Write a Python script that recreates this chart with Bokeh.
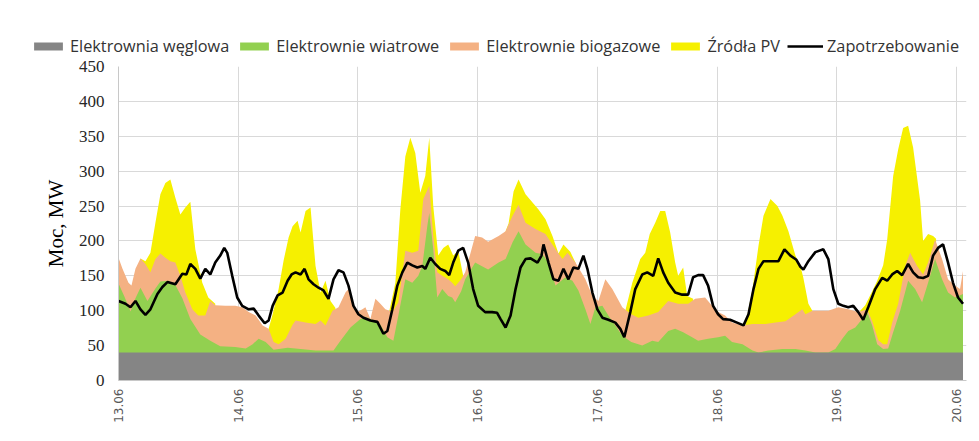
import math
from bokeh.plotting import figure
from bokeh.layouts import column
from bokeh.models import Range1d, FixedTicker, Legend, LegendItem
from bokeh.embed import file_html
from bokeh.resources import INLINE

# ---------------- data (hours from 13.06 00:00, MW) ----------------
day_ticks_h = [0, 24, 48, 72, 96, 120, 144, 168]
day_labels = ["13.06", "14.06", "15.06", "16.06", "17.06", "18.06", "19.06", "20.06"]
y_ticks = [0, 50, 100, 150, 200, 250, 300, 350, 400, 450]

series_names = ["Elektrownia węglowa", "Elektrownie wiatrowe", "Elektrownie biogazowe",
                "Źródła PV", "Zapotrzebowanie"]

# coal plant (constant output)
coal_h = [0.0, 169.3]
coal_mw = [40, 40]

# top of the stacked wind layer (coal + wind)
wind_h = [0.0, 1.2, 2.4, 3.4, 4.4, 5.8, 7.4, 8.4, 10.0, 11.4, 12.8, 14.4, 16.4, 18.4, 20.4,
          23.4, 25.5, 26.9, 28.1, 29.5, 31.1, 33.9, 36.5, 39.5, 43.1, 44.5, 46.5, 48.5, 49.5,
          51.1, 52.5, 53.9, 55.1, 56.1, 57.5, 58.9, 60.1, 60.9, 61.9, 62.3, 63.1, 63.9, 64.9,
          66.1, 66.9, 67.5, 68.7, 69.5, 71.5, 72.5, 74.1, 76.2, 77.6, 79.0, 80.2, 81.6, 83.6,
          85.0, 86.2, 87.6, 89.6, 91.0, 92.2, 93.6, 94.6, 95.6, 97.0, 98.2, 99.6, 101.0, 102.8,
          105.0, 107.0, 108.2, 110.2, 111.6, 113.2, 115.0, 116.2, 118.2, 120.2, 121.6, 123.0,
          125.1, 127.1, 128.3, 130.3, 133.1, 135.7, 137.7, 139.7, 142.3, 143.7, 145.1, 146.3,
          147.7, 149.1, 150.1, 151.1, 152.1, 153.3, 154.3, 155.3, 156.7, 158.3, 159.7, 161.1,
          162.3, 163.7, 165.1, 166.3, 167.7, 169.3]
wind_top = [139, 120, 99, 118, 133, 114, 132, 142, 143, 137, 118, 88, 66, 57, 49,
            48, 46, 52, 60, 55, 44, 47, 45, 43, 43, 57, 76, 88, 91,
            86, 80, 62, 57, 93, 145, 140, 150, 164, 221, 240, 188, 119, 131,
            121, 119, 112, 128, 145, 169, 165, 159, 169, 174, 198, 214, 195, 183,
            181, 169, 136, 148, 143, 129, 102, 81, 105, 107, 93, 79, 64, 55,
            50, 57, 55, 71, 74, 69, 62, 57, 60, 62, 64, 55,
            52, 43, 40, 43, 45, 45, 43, 40, 40, 45, 60, 71,
            76, 88, 98, 79, 52, 45, 46, 69, 100, 143, 131, 112,
            140, 174, 145, 126, 119, 124]

# top of the stacked biogas layer (coal + wind + biogas)
biogas_h = [0.0, 0.8, 2.0, 2.6, 3.4, 4.4, 5.4, 6.4, 7.4, 8.4, 9.4, 10.4, 11.4, 12.4, 13.4,
            14.8, 16.0, 17.4, 18.4, 19.4, 21.4, 23.4, 24.8, 26.1, 27.5, 28.9, 30.1, 31.1, 32.1,
            33.5, 34.9, 35.5, 37.5, 39.5, 40.5, 41.5, 42.9, 44.1, 45.5, 46.1, 46.9, 47.9, 48.9,
            49.5, 50.5, 51.5, 52.5, 53.5, 54.9, 56.1, 57.5, 58.9, 60.1, 61.1, 62.3, 63.1, 63.9,
            64.9, 66.1, 66.9, 67.5, 68.7, 69.5, 71.5, 72.9, 74.1, 76.2, 77.6, 79.0, 80.2, 81.6,
            83.6, 85.6, 87.6, 89.0, 90.0, 91.6, 93.6, 95.0, 96.2, 97.6, 99.0, 101.0, 102.8, 104.2,
            106.2, 108.2, 110.2, 112.2, 114.2, 115.6, 117.6, 119.0, 120.2, 121.6, 123.0, 125.1,
            127.1, 129.7, 131.7, 133.7, 135.7, 137.1, 137.7, 139.1, 142.3, 144.3, 146.3, 148.3,
            150.1, 151.1, 152.3, 153.3, 154.1, 155.1, 156.3, 157.7, 158.7, 160.1, 161.3, 162.3,
            163.7, 165.1, 166.3, 167.7, 168.7, 169.3]
biogas_top = [176, 160, 140, 136, 160, 175, 167, 155, 174, 182, 176, 171, 169, 150, 126,
              102, 93, 93, 114, 108, 107, 107, 105, 98, 93, 79, 74, 55, 52,
              60, 80, 86, 83, 81, 86, 79, 100, 105, 126, 131, 112, 98, 102,
              105, 88, 117, 110, 102, 98, 112, 186, 183, 186, 260, 279, 207, 155,
              150, 145, 140, 135, 145, 155, 207, 205, 199, 207, 214, 236, 252, 226,
              217, 210, 188, 174, 183, 169, 145, 121, 114, 145, 131, 105, 95, 90,
              93, 98, 114, 110, 110, 117, 119, 107, 98, 93, 83, 79,
              81, 81, 83, 85, 95, 102, 95, 100, 100, 105, 102, 98,
              102, 85, 58, 52, 52, 83, 110, 164, 183, 164, 152, 169,
              202, 174, 145, 136, 131, 157]

# top of the stacked PV layer, one list per sunny period
pv_h = [
    [4.4, 5.4, 6.4, 7.4, 8.4, 9.4, 10.4, 11.4, 12.4, 13.4, 14.4, 15.4, 16.8, 18.0, 19.4],
    [30.1, 30.9, 32.1, 33.1, 34.1, 34.9, 35.9, 36.5, 37.5, 38.5, 39.5, 40.5, 41.5, 42.5, 43.5],
    [54.3, 55.5, 56.5, 57.5, 58.5, 59.5, 60.5, 61.5, 62.3, 63.1, 64.1, 65.1, 66.1, 67.1, 68.1, 69.1],
    [77.6, 78.2, 79.2, 80.2, 81.6, 83.0, 84.2, 85.6, 87.0, 88.2, 89.2, 90.6, 91.6],
    [101.6, 103.0, 104.6, 105.6, 106.5, 107.6, 108.6, 109.6, 110.6, 111.6, 112.2, 113.2, 114.0, 115.2],
    [125.7, 127.1, 128.3, 129.3, 130.7, 132.1, 133.1, 134.3, 135.7, 136.7, 137.3, 138.3, 139.1],
    [148.7, 149.7, 151.1, 152.1, 153.3, 154.1, 155.3, 156.3, 157.3, 158.3, 159.3, 160.7, 161.3,
     162.3, 163.3, 163.9],
]
pv_top = [
    [175, 171, 183, 226, 267, 283, 288, 262, 238, 248, 256, 188, 140, 119, 110],
    [74, 95, 131, 172, 205, 221, 229, 212, 243, 248, 164, 126, 143, 114, 104],
    [100, 140, 245, 321, 348, 326, 269, 293, 348, 250, 179, 190, 195, 179, 186, 150],
    [214, 225, 271, 288, 267, 255, 245, 231, 207, 182, 195, 184, 169],
    [100, 140, 174, 183, 210, 226, 243, 243, 212, 169, 150, 162, 121, 117],
    [81, 131, 193, 236, 260, 250, 236, 214, 179, 164, 147, 110, 100],
    [100, 108, 128, 143, 165, 202, 293, 331, 362, 365, 334, 258, 200, 210, 207, 203],
]

# demand
demand_h = [0.0, 1.4, 2.4, 3.4, 4.4, 5.4, 6.4, 7.8, 8.8, 9.8, 11.4, 12.8, 13.6, 14.4, 15.4,
            16.4, 17.4, 18.4, 19.4, 20.4, 21.2, 21.8, 22.8, 23.8, 24.8, 26.1, 27.1, 28.1, 29.3,
            30.1, 30.9, 31.9, 32.9, 33.9, 34.7, 35.5, 36.5, 37.3, 38.1, 39.1, 40.1, 41.1, 42.1,
            43.1, 44.1, 45.1, 46.1, 47.1, 48.1, 49.1, 50.5, 51.9, 53.1, 53.9, 54.9, 55.9, 56.9,
            57.9, 58.9, 59.9, 60.9, 61.5, 62.5, 63.5, 64.5, 65.5, 66.3, 67.1, 68.1, 69.1, 70.1,
            71.1, 72.1, 73.5, 74.9, 75.9, 76.6, 77.6, 78.6, 79.6, 80.6, 81.6, 82.6, 84.0, 84.8,
            85.2, 86.2, 87.2, 88.2, 89.2, 90.2, 91.2, 92.2, 93.2, 94.0, 95.0, 96.0, 97.0, 98.2,
            99.6, 100.6, 101.4, 102.6, 103.6, 105.0, 106.0, 107.2, 108.2, 109.2, 110.2, 111.6,
            113.0, 114.2, 115.2, 116.2, 117.2, 118.2, 119.2, 120.2, 121.2, 122.6, 124.0, 125.3,
            126.3, 127.3, 128.3, 129.3, 131.1, 132.3, 133.5, 134.7, 135.9, 136.7, 137.3, 138.3,
            139.7, 141.3, 142.3, 143.3, 144.3, 145.3, 146.3, 147.3, 148.3, 149.3, 150.3, 151.7,
            153.1, 154.1, 155.1, 156.1, 157.1, 158.3, 159.3, 160.3, 161.3, 162.3, 163.3, 164.3,
            165.3, 166.3, 167.3, 168.3, 169.3]
demand_mw = [114, 110, 105, 114, 102, 94, 102, 124, 134, 141, 138, 153, 152, 167, 160,
             146, 160, 152, 169, 179, 190, 183, 150, 119, 107, 102, 103, 93, 82,
             86, 107, 122, 126, 143, 152, 155, 152, 160, 145, 138, 133, 129, 117,
             145, 158, 155, 136, 107, 95, 90, 86, 84, 67, 71, 102, 136, 155,
             169, 165, 162, 164, 160, 176, 167, 160, 157, 151, 169, 186, 190, 169,
             131, 107, 98, 98, 97, 88, 76, 93, 131, 162, 174, 175, 169, 179,
             195, 169, 145, 143, 160, 145, 162, 160, 179, 160, 126, 102, 90, 87,
             83, 74, 62, 98, 131, 152, 155, 150, 175, 155, 140, 126,
             123, 123, 148, 151, 151, 136, 107, 95, 88, 87, 83, 79,
             95, 131, 160, 171, 171, 171, 188, 179, 173, 163, 159, 171,
             184, 188, 174, 131, 110, 107, 105, 107, 98, 87, 105, 131,
             147, 143, 152, 157, 151, 167, 155, 148, 147, 150, 179, 190,
             195, 169, 140, 119, 110]

colors = ["#858585", "#92d050", "#f4b183", "#f6f000", "#000000"]

# ---------------- legend strip (separate figure stacked above the chart) ----------------
W = 979
LEG_H = 56
leg = figure(width=W, height=LEG_H, x_range=Range1d(0, 1), y_range=Range1d(0, 1),
             output_backend="svg", toolbar_location=None, title=None,
             x_axis_location=None, y_axis_location=None,
             min_border_left=0, min_border_right=0, min_border_top=0, min_border_bottom=0)
leg.outline_line_color = None
leg.xgrid.visible = False
leg.ygrid.visible = False
# legend proxies: same styles, placed outside the strip's visible range
proxies = [leg.varea(x=[5, 6], y1=[5, 5], y2=[6, 6], fill_color=c) for c in colors[:4]]
proxies.append(leg.line(x=[5, 6], y=[5, 5], line_color=colors[4], line_width=2.6))
legend = Legend(
    items=[LegendItem(label=name, renderers=[r]) for name, r in zip(series_names, proxies)],
    location=(30, -1), orientation="horizontal",
    glyph_width=36, glyph_height=10, label_standoff=4, spacing=7,
    padding=0, margin=0, border_line_color=None, background_fill_alpha=0,
    label_text_font="Open Sans", label_text_font_size="16.3px", label_text_color="#333333",
    label_height=16,
)
leg.add_layout(legend)

# ---------------- main chart ----------------
p = figure(width=W, height=441 - LEG_H, x_range=Range1d(0, 170), y_range=Range1d(0, 450),
           output_backend="svg", toolbar_location=None, title=None,
           min_border_left=118, min_border_right=13, min_border_top=10, min_border_bottom=61)
p.outline_line_color = None
p.background_fill_color = "white"
p.border_fill_color = "white"

# keep each figure's frame where its own borders put it
for fig in (leg, p):
    if "frame_align" in fig.properties():
        fig.frame_align = False

for hx, ht in zip(pv_h, pv_top):
    p.varea(x=hx, y1=0, y2=ht, fill_color=colors[3])
p.varea(x=biogas_h, y1=0, y2=biogas_top, fill_color=colors[2])
p.varea(x=wind_h, y1=0, y2=wind_top, fill_color=colors[1])
p.varea(x=coal_h, y1=0, y2=coal_mw, fill_color=colors[0])
p.line(demand_h, demand_mw, line_color=colors[4], line_width=2.6)

p.xaxis.ticker = FixedTicker(ticks=day_ticks_h)
p.xaxis.major_label_overrides = {t: l for t, l in zip(day_ticks_h, day_labels)}
p.xaxis.major_label_orientation = math.pi / 2
p.xaxis.major_label_text_font = "DejaVu Sans"
p.xaxis.major_label_text_font_size = "12px"
p.xaxis.major_label_text_color = "#595959"
p.xaxis.major_label_standoff = 8
p.xaxis.major_tick_out = 0
p.xaxis.major_tick_in = 0
p.xaxis.minor_tick_out = 0
p.xaxis.minor_tick_in = 0
p.xaxis.axis_line_color = "#c8c8c8"

p.yaxis.ticker = FixedTicker(ticks=y_ticks)
p.yaxis.major_label_text_font = "Liberation Serif"
p.yaxis.major_label_text_font_size = "17px"
p.yaxis.major_label_text_color = "#262626"
p.yaxis.major_label_standoff = 14
p.yaxis.major_tick_out = 0
p.yaxis.major_tick_in = 0
p.yaxis.minor_tick_out = 0
p.yaxis.minor_tick_in = 0
p.yaxis.axis_line_color = "#c8c8c8"
p.yaxis.axis_label = "Moc, MW"
p.yaxis.axis_label_text_font = "Liberation Serif"
p.yaxis.axis_label_text_font_size = "21px"
p.yaxis.axis_label_text_font_style = "normal"
p.yaxis.axis_label_text_color = "#000000"
p.yaxis.axis_label_standoff = 8

p.xgrid.ticker = FixedTicker(ticks=day_ticks_h)
p.ygrid.ticker = FixedTicker(ticks=y_ticks)
p.xgrid.grid_line_color = "#d9d9d9"
p.ygrid.grid_line_color = "#d9d9d9"

layout = column(leg, p, spacing=0)
open("out.html", "w").write(file_html(layout, INLINE))
